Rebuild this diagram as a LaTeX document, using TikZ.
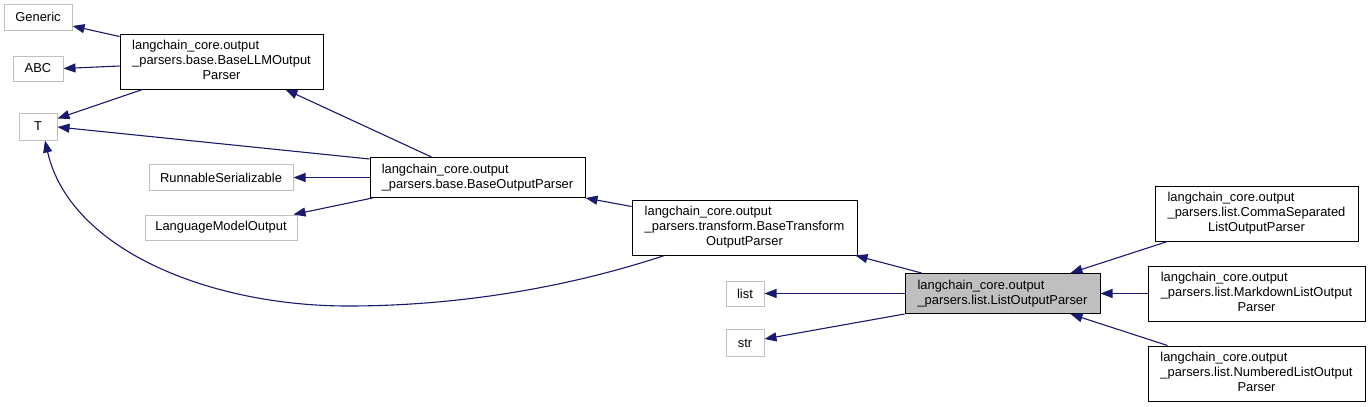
\documentclass[tikz,border=0pt]{standalone}
\usepackage{fontspec}
\setmainfont{Liberation Sans}
\usetikzlibrary{arrows.meta,calc}
\definecolor{EdgeBlue}{RGB}{25,25,112}
\definecolor{ExtGray}{RGB}{191,191,191}
\definecolor{FocusGray}{RGB}{191,191,191}
\newcommand{\threeline}[3]{\begin{tabular}{@{}l@{}}#1\\#2\\\multicolumn{1}{@{}c@{}}{#3}\end{tabular}}
\tikzset{
  cls/.style={draw=black,fill=white,line width=1pt,inner sep=0pt,
    align=left,font=\fontsize{12.9}{15}\selectfont},
  ext/.style={draw=ExtGray,fill=white,line width=1pt,inner sep=0pt,
    align=center,font=\fontsize{12.9}{15}\selectfont},
  focus/.style={cls,fill=FocusGray},
  edge/.style={-{Triangle[length=12pt,width=9pt]},line width=1.1pt,EdgeBlue}
}

\begin{document}
\begin{tikzpicture}[x=1pt,y=-1pt]
      \useasboundingbox (0,0) rectangle (1371,407);

      \node[ext,minimum width=68,minimum height=26] (generic) at (38,17) {Generic};
      \node[ext,minimum width=50,minimum height=25] (abc) at (38,68.5) {ABC};
      \node[ext,minimum width=38,minimum height=27] (tparam) at (38,126.5) {T};
      \node[cls,minimum width=203,minimum height=55] (basellm) at (221.5,61.5)
        {\threeline{langchain\_core.output}{\_parsers.base.BaseLLMOutput}{Parser}};
      \node[ext,minimum width=144,minimum height=26] (runnable) at (221,177.5)
        {RunnableSerializable};
      \node[ext,minimum width=152,minimum height=25] (lmoutput) at (221,227.5)
        {LanguageModelOutput};
      \node[cls,minimum width=215,minimum height=40] (baseparser) at (477.5,177.5)
        {langchain\_core.output\\\_parsers.base.BaseOutputParser};
      \node[cls,minimum width=225,minimum height=55] (transform) at (744.5,227.5)
        {\threeline{langchain\_core.output}{\_parsers.transform.BaseTransform}{OutputParser}};
      \node[ext,minimum width=38,minimum height=25] (listtype) at (745,293.5) {list};
      \node[ext,minimum width=38,minimum height=27] (strtype) at (745,343) {str};
      \node[focus,minimum width=195,minimum height=40] (listparser) at (1002.5,293.5)
        {langchain\_core.output\\\_parsers.list.ListOutputParser};
      \node[cls,minimum width=203,minimum height=55] (commasep) at (1256.5,213.5)
        {\threeline{langchain\_core.output}{\_parsers.list.CommaSeparated}{ListOutputParser}};
      \node[cls,minimum width=217,minimum height=55] (markdown) at (1256.5,293.5)
        {\threeline{langchain\_core.output}{\_parsers.list.MarkdownListOutput}{Parser}};
      \node[cls,minimum width=217,minimum height=55] (numbered) at (1256.5,373.5)
        {\threeline{langchain\_core.output}{\_parsers.list.NumberedListOutput}{Parser}};
      \coordinate (tbend) at (348,306);

      \draw[edge] ($(basellm.north west)+(0,3)$) -- ($(generic.east)+(0,9)$);
      \draw[edge] ($(basellm.west)+(0,4.5)$) -- (abc.east);
      \draw[edge] ($(basellm.south west)+(23,0)$) -- ($(tparam.north east)+(0,6)$);
      \draw[edge] ($(baseparser.north west)+(0,2)$) -- ($(tparam.east)+(0,0.5)$);
      \draw[edge] ($(baseparser.north west)+(62,0)$) -- ($(basellm.south west)+(166,0)$);
      \draw[edge] (baseparser.west) -- (runnable.east);
      \draw[edge] ($(baseparser.south west)+(3,0)$) -- ($(lmoutput.north east)+(-4,0)$);
      \draw[edge] ($(transform.north west)+(0,7)$) -- (baseparser.south east);
      \draw[edge] ($(transform.south west)+(33,0)$) .. controls (560,290) and (450,306) .. (tbend)
        .. controls (210,306) and (70,250) .. ($(tparam.south)+(7,0)$);
      \draw[edge] ($(listparser.north west)+(17,0)$) -- ($(transform.south east)+(-2,0)$);
      \draw[edge] (listparser.west) -- (listparser.west -| listtype.east);
      \draw[edge] (listparser.south west) -- ($(strtype.east)+(0,-4)$);
      \draw[edge] ($(commasep.south west)+(13,0)$) -- ($(listparser.north east)+(-30,0)$);
      \draw[edge] (markdown.west) -- (markdown.west -| listparser.east);
      \draw[edge] ($(numbered.north west)+(20,0)$) -- ($(listparser.south east)+(-30,0)$);
    \end{tikzpicture}
\end{document}
